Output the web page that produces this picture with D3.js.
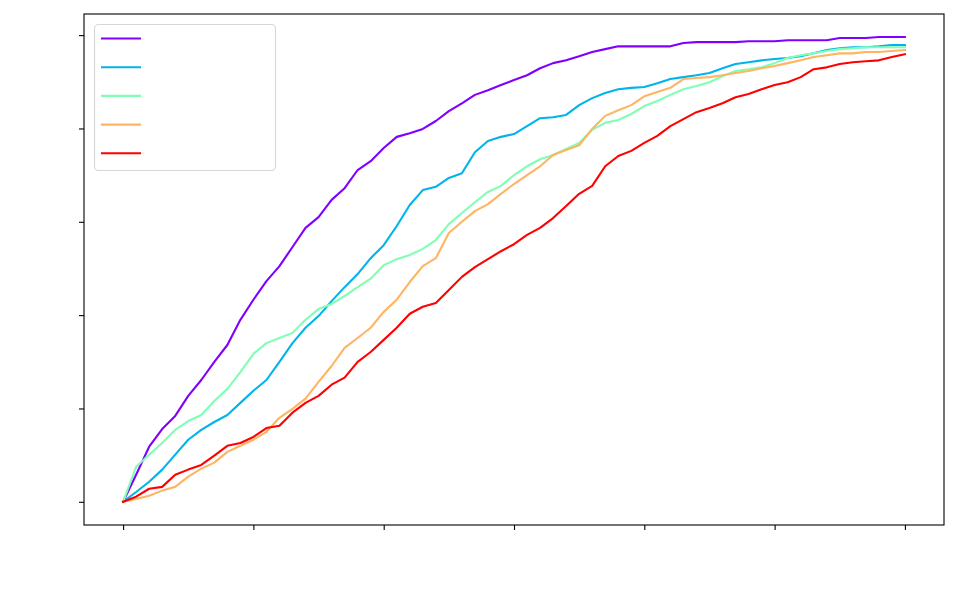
<!DOCTYPE html>
<html>
<head>
<meta charset="utf-8">
<script src="https://cdn.jsdelivr.net/npm/d3@7"></script>
<style>
  html, body { margin: 0; padding: 0; background: #fff; }
  svg { display: block; }
</style>
</head>
<body>
<svg id="chart" width="957" height="598"></svg>
<script>
// ---- data ----
const xValues = d3.range(0, 601, 10);
const seriesNames = ["s1", "s2", "s3", "s4", "s5"];
const seriesColors = ["#8000ff", "#00b4eb", "#80ffb4", "#ffb462", "#ff0000"];

const s1 = [0,0.058,0.118,0.156,0.184,0.227,0.261,0.300,0.336,0.390,0.433,0.473,0.505,0.546,0.587,0.610,0.647,0.672,0.711,0.730,0.758,0.782,0.790,0.799,0.816,0.837,0.854,0.872,0.882,0.893,0.904,0.914,0.929,0.940,0.946,0.955,0.964,0.970,0.976,0.976,0.976,0.976,0.976,0.983,0.985,0.985,0.985,0.985,0.987,0.987,0.987,0.989,0.989,0.989,0.989,0.994,0.994,0.994,0.996,0.996,0.996];
const s2 = [0,0.021,0.043,0.069,0.101,0.133,0.154,0.171,0.186,0.212,0.238,0.261,0.300,0.340,0.373,0.398,0.430,0.460,0.488,0.522,0.550,0.591,0.636,0.668,0.675,0.694,0.704,0.749,0.773,0.782,0.788,0.805,0.822,0.824,0.829,0.850,0.865,0.876,0.884,0.887,0.889,0.897,0.906,0.910,0.914,0.919,0.929,0.938,0.942,0.946,0.949,0.951,0.955,0.961,0.968,0.972,0.974,0.974,0.976,0.979,0.979];
const s3 = [0,0.075,0.101,0.126,0.154,0.173,0.186,0.216,0.242,0.278,0.317,0.340,0.351,0.362,0.390,0.413,0.424,0.441,0.460,0.478,0.507,0.520,0.529,0.542,0.561,0.595,0.619,0.642,0.664,0.677,0.700,0.719,0.734,0.743,0.756,0.769,0.797,0.812,0.818,0.831,0.848,0.859,0.872,0.884,0.891,0.899,0.912,0.923,0.927,0.931,0.940,0.951,0.957,0.961,0.966,0.970,0.972,0.974,0.974,0.974,0.974];
const s4 = [0,0.006,0.013,0.024,0.032,0.054,0.071,0.084,0.107,0.120,0.133,0.150,0.180,0.199,0.221,0.257,0.291,0.330,0.351,0.373,0.407,0.433,0.471,0.505,0.522,0.576,0.600,0.623,0.638,0.660,0.681,0.700,0.719,0.743,0.754,0.764,0.799,0.827,0.839,0.850,0.869,0.878,0.887,0.906,0.908,0.910,0.914,0.919,0.923,0.929,0.934,0.940,0.946,0.953,0.957,0.961,0.961,0.964,0.964,0.966,0.968];
const s5 = [0,0.011,0.028,0.032,0.058,0.069,0.079,0.099,0.120,0.126,0.139,0.158,0.163,0.191,0.212,0.227,0.251,0.266,0.300,0.321,0.347,0.373,0.403,0.418,0.426,0.454,0.482,0.503,0.520,0.537,0.552,0.572,0.587,0.608,0.634,0.660,0.677,0.719,0.741,0.752,0.769,0.784,0.805,0.820,0.835,0.844,0.854,0.867,0.874,0.884,0.893,0.899,0.910,0.927,0.931,0.938,0.942,0.944,0.946,0.953,0.959];
const seriesValues = [s1, s2, s3, s4, s5];

const xTicks = [0, 100, 200, 300, 400, 500, 600];
const yTicks = [0, 0.2, 0.4, 0.6, 0.8, 1.0];

// ---- layout ----
const svg = d3.select("#chart");
const plotLeft = 84, plotRight = 944, plotTop = 14, plotBottom = 525;

const x = d3.scaleLinear().domain([-30, 630]).range([plotLeft, plotRight]);
const y = d3.scaleLinear().domain([-0.0497, 1.0453]).range([plotBottom, plotTop]);

// axes (ticks only, no labels)
const xAxis = d3.axisBottom(x).tickValues(xTicks).tickFormat("").tickSizeInner(5).tickSizeOuter(0);
const yAxis = d3.axisLeft(y).tickValues(yTicks).tickFormat("").tickSizeInner(5).tickSizeOuter(0);

const gx = svg.append("g").attr("transform", `translate(0,${plotBottom})`).call(xAxis);
const gy = svg.append("g").attr("transform", `translate(${plotLeft},0)`).call(yAxis);
[gx, gy].forEach(g => {
  g.select(".domain").remove();
  g.selectAll(".tick line").attr("stroke", "#000").attr("stroke-width", 1.1);
});

// lines
const line = d3.line()
  .x((d, i) => x(xValues[i]))
  .y(d => y(d));

const plot = svg.append("g");
seriesValues.forEach((vals, k) => {
  plot.append("path")
    .datum(vals)
    .attr("fill", "none")
    .attr("stroke", seriesColors[k])
    .attr("stroke-width", 2.1)
    .attr("stroke-linejoin", "round")
    .attr("stroke-linecap", "square")
    .attr("d", line);
});

// frame
svg.append("rect")
  .attr("x", plotLeft).attr("y", plotTop)
  .attr("width", plotRight - plotLeft).attr("height", plotBottom - plotTop)
  .attr("fill", "none").attr("stroke", "#000").attr("stroke-width", 1.1);

// legend (no labels visible)
const lg = svg.append("g");
lg.append("rect")
  .attr("x", 94.5).attr("y", 24.5).attr("width", 181).attr("height", 146)
  .attr("rx", 4).attr("ry", 4)
  .attr("fill", "#fff").attr("fill-opacity", 0.8)
  .attr("stroke", "#d6d6d6").attr("stroke-width", 1.1);
seriesNames.forEach((name, k) => {
  const yy = 38.5 + k * 28.7;
  lg.append("line")
    .attr("x1", 101).attr("x2", 141)
    .attr("y1", yy).attr("y2", yy)
    .attr("stroke", seriesColors[k]).attr("stroke-width", 2.1);
});
</script>
</body>
</html>
